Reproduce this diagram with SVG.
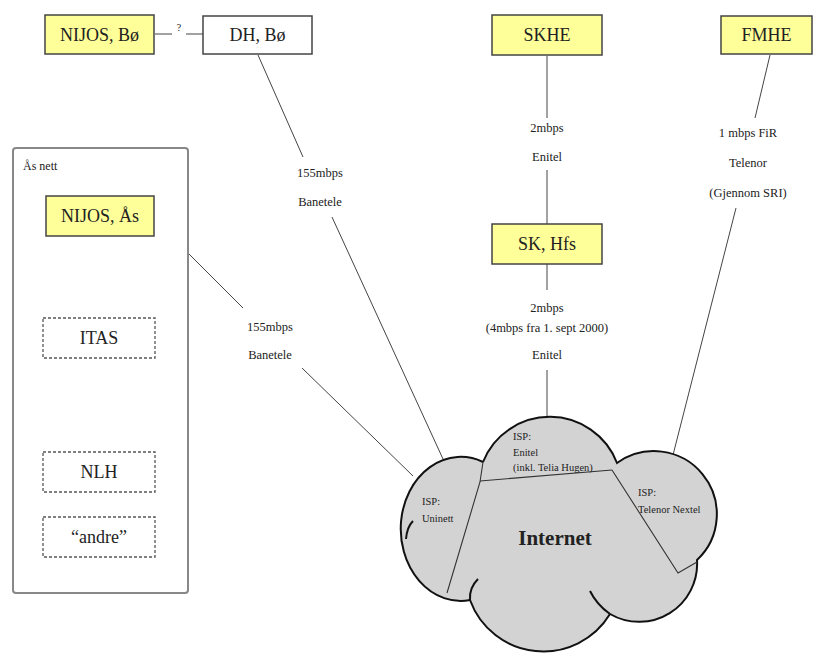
<svg xmlns="http://www.w3.org/2000/svg" width="819" height="654" viewBox="0 0 819 654">
<style>
text{font-family:"Liberation Serif","Times New Roman",serif;fill:#222}
.box{fill:#ffff99;stroke:#444;stroke-width:1.5}
.wbox{fill:#fff;stroke:#444;stroke-width:1.5}
.dbox{fill:#fff;stroke:#555;stroke-width:1.3;stroke-dasharray:3 2}
.bl{font-size:18px;text-anchor:middle}
.lbl{font-size:12.5px;text-anchor:middle}
.isp{font-size:10.5px}
.conn{stroke:#444;stroke-width:1;fill:none}
.cl{stroke:#111;stroke-width:2;fill:none}
.div{stroke:#333;stroke-width:1.1;fill:none}
</style>
<rect width="819" height="654" fill="#fff"/>

<g id="connectors">
<line class="conn" x1="155" y1="34" x2="172" y2="34"/>
<line class="conn" x1="186" y1="34" x2="203" y2="34"/>
<line class="conn" x1="258" y1="55" x2="303" y2="157"/>
<line class="conn" x1="332" y1="217" x2="443" y2="459"/>
<line class="conn" x1="188" y1="253" x2="243" y2="308"/>
<line class="conn" x1="302" y1="368" x2="413" y2="476"/>
<line class="conn" x1="547" y1="56" x2="547" y2="118"/>
<line class="conn" x1="547" y1="170" x2="547" y2="224"/>
<line class="conn" x1="547" y1="264" x2="547" y2="290"/>
<line class="conn" x1="547" y1="370" x2="547" y2="418"/>
<line class="conn" x1="770" y1="55" x2="755" y2="118"/>
<line class="conn" x1="736" y1="208" x2="673" y2="455"/>
<text x="179" y="31" style="font-size:10px" text-anchor="middle">?</text>
<text class="lbl" x="320" y="177">155mbps</text>
<text class="lbl" x="320" y="206">Banetele</text>
<text class="lbl" x="270" y="331">155mbps</text>
<text class="lbl" x="270" y="359">Banetele</text>
<text class="lbl" x="547" y="132">2mbps</text>
<text class="lbl" x="547" y="161">Enitel</text>
<text class="lbl" x="547" y="312">2mbps</text>
<text class="lbl" x="547" y="332">(4mbps fra 1. sept 2000)</text>
<text class="lbl" x="547" y="359">Enitel</text>
<text class="lbl" x="748" y="137">1 mbps FiR</text>
<text class="lbl" x="748" y="167">Telenor</text>
<text class="lbl" x="748" y="197">(Gjennom SRI)</text>
</g>

<g id="as-nett">
<rect x="13" y="148" width="175" height="445" rx="3" fill="#fff" stroke="#888" stroke-width="2"/>
<text x="23" y="170" style="font-size:12px">Ås nett</text>
</g>

<g id="nijos-bo">
<rect class="box" x="45" y="15" width="109" height="39"/>
<text class="bl" x="99.5" y="41">NIJOS, Bø</text>
</g>
<g id="dh-bo">
<rect class="wbox" x="203" y="16" width="109" height="38"/>
<text class="bl" x="257.5" y="41">DH, Bø</text>
</g>
<g id="skhe">
<rect class="box" x="492" y="15" width="110" height="40"/>
<text class="bl" x="547" y="41">SKHE</text>
</g>
<g id="fmhe">
<rect class="box" x="721" y="16" width="91" height="38"/>
<text class="bl" x="766.5" y="41">FMHE</text>
</g>
<g id="sk-hfs">
<rect class="box" x="492" y="224" width="110" height="40"/>
<text class="bl" x="547" y="250">SK, Hfs</text>
</g>
<g id="nijos-as">
<rect class="box" x="46" y="196" width="108" height="40"/>
<text class="bl" x="100" y="222">NIJOS, Ås</text>
</g>
<g id="itas">
<rect class="dbox" x="43" y="318" width="112" height="40"/>
<text class="bl" x="99" y="344">ITAS</text>
</g>
<g id="nlh">
<rect class="dbox" x="43" y="452" width="112" height="40"/>
<text class="bl" x="99" y="478">NLH</text>
</g>
<g id="andre">
<rect class="dbox" x="43" y="517" width="112" height="40"/>
<text class="bl" x="99" y="543">“andre”</text>
</g>

<g id="internet">
<path d="M483,462 A72,72 0 0 1 617,463 A63,63 0 0 1 697,560 A58,58 0 0 1 610,614 A78,78 0 0 1 470,600 A60,72 0 1 1 483,462 Z" fill="#d3d3d3" stroke="none"/>
<path class="cl" d="M483,462 A72,72 0 0 1 617,463 A63,63 0 0 1 697,560 A58,58 0 0 1 610,614 A78,78 0 0 1 470,600 A60,72 0 1 1 483,462"/>
<path class="cl" d="M413,521 Q407,527 406,539"/>
<path class="cl" d="M470,600 Q469,588 478,579"/>
<path class="cl" d="M610,614 Q597,605 590,591"/>
<path class="div" d="M483,462 L480,482 L447,593"/>
<path class="div" d="M480,481 L612,470"/>
<path class="div" d="M612,470 L678,573 L697,562"/>
<text class="isp" x="422" y="505">ISP:</text>
<text class="isp" x="422" y="522">Uninett</text>
<text class="isp" x="513" y="440">ISP:</text>
<text class="isp" x="513" y="456">Enitel</text>
<text class="isp" x="513" y="471">(inkl. Telia Hugen)</text>
<text class="isp" x="638" y="496">ISP:</text>
<text class="isp" x="638" y="513">Telenor Nextel</text>
<text x="555" y="545" style="font-size:21px;font-weight:bold" text-anchor="middle">Internet</text>
</g>
</svg>
